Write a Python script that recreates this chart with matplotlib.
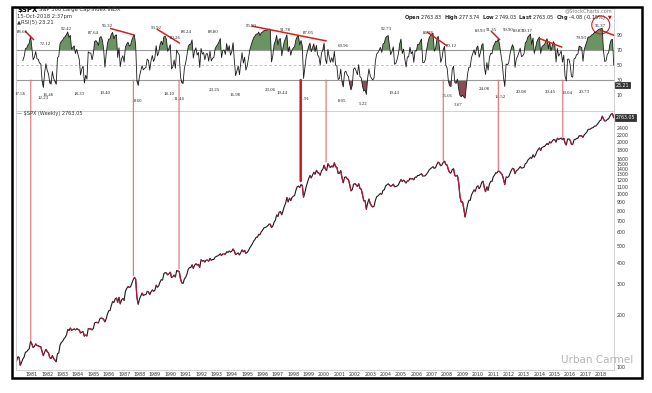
import numpy as np
import matplotlib.pyplot as plt
from matplotlib.patches import Rectangle, Ellipse, ConnectionPatch
from matplotlib.collections import LineCollection

# S&P 500 monthly closes (Dec 1979 .. mid Oct 2018), read/estimated
spx_1980s = [107.94,
    114.16, 113.66, 102.09, 106.29, 111.24, 114.24, 121.67, 122.38, 125.46, 127.47, 140.52, 135.76,
    129.55, 131.27, 136.00, 132.81, 132.59, 131.21, 130.92, 122.79, 116.18, 121.89, 126.35, 122.55,
    120.40, 113.11, 111.96, 116.44, 111.88, 109.61, 107.09, 119.51, 120.42, 133.71, 138.54, 140.64,
    145.30, 148.06, 152.96, 164.42, 162.39, 168.11, 162.56, 164.40, 166.07, 163.55, 166.40, 164.93,
    163.41, 157.06, 159.18, 160.05, 150.55, 153.18, 150.66, 166.68, 166.10, 166.09, 163.58, 167.24,
    179.63, 181.18, 180.66, 179.83, 189.55, 191.85, 190.92, 188.63, 182.08, 189.82, 202.17, 211.28,
    211.78, 226.92, 238.90, 235.52, 247.35, 250.84, 236.12, 252.93, 231.32, 243.98, 249.22, 242.17,
    274.08, 284.20, 291.70, 288.36, 290.10, 304.00, 318.66, 329.80, 321.83, 251.79, 230.30, 247.08,
    257.07, 267.82, 258.89, 261.33, 262.16, 273.50, 272.02, 261.52, 271.91, 278.97, 273.70, 277.72,
    297.47, 288.86, 294.87, 309.64, 320.52, 317.98, 346.08, 351.45, 349.15, 340.36, 345.99, 353.40]
spx_1990s = [
    329.08, 331.89, 339.94, 330.80, 361.23, 358.02, 356.15, 322.56, 306.05, 304.00, 322.22, 330.22,
    343.93, 367.07, 375.22, 375.35, 389.83, 371.16, 387.81, 395.43, 387.86, 392.46, 375.22, 417.09,
    408.79, 412.70, 403.69, 414.95, 415.35, 408.14, 424.21, 414.03, 417.80, 418.68, 431.35, 435.71,
    438.78, 443.38, 451.67, 440.19, 450.19, 450.53, 448.13, 463.56, 458.93, 467.83, 461.79, 466.45,
    481.61, 467.14, 445.77, 450.91, 456.50, 444.27, 458.26, 475.49, 462.69, 472.35, 453.69, 459.27,
    470.42, 487.39, 500.71, 514.71, 533.40, 544.75, 562.06, 561.88, 584.41, 581.50, 605.37, 615.93,
    636.02, 640.43, 645.50, 654.17, 669.12, 670.63, 639.95, 651.99, 687.31, 705.27, 757.02, 740.74,
    786.16, 790.82, 757.12, 801.34, 848.28, 885.14, 954.29, 899.47, 947.28, 914.62, 955.40, 970.43,
    980.28, 1049.34, 1101.75, 1111.75, 1090.82, 1133.84, 1120.67, 957.28, 1017.01, 1098.67, 1163.63, 1229.23,
    1279.64, 1238.33, 1286.37, 1335.18, 1301.84, 1372.71, 1328.72, 1320.41, 1282.71, 1362.93, 1388.91, 1469.25]
spx_2000s = [
    1394.46, 1366.42, 1498.58, 1452.43, 1420.60, 1454.60, 1430.83, 1517.68, 1436.51, 1429.40, 1314.95, 1320.28,
    1366.01, 1239.94, 1160.33, 1249.46, 1255.82, 1224.42, 1211.23, 1133.58, 1040.94, 1059.78, 1139.45, 1148.08,
    1130.20, 1106.73, 1147.39, 1076.92, 1067.14, 989.82, 911.62, 916.07, 815.28, 885.76, 936.31, 879.82,
    855.70, 841.15, 848.18, 916.92, 963.59, 974.50, 990.31, 1008.01, 995.97, 1050.71, 1058.20, 1111.92,
    1131.13, 1144.94, 1126.21, 1107.30, 1120.68, 1140.84, 1101.72, 1104.24, 1114.58, 1130.20, 1173.82, 1211.92,
    1181.27, 1203.60, 1180.59, 1156.85, 1191.50, 1191.33, 1234.18, 1220.33, 1228.81, 1207.01, 1249.48, 1248.29,
    1280.08, 1280.66, 1294.87, 1310.61, 1270.09, 1270.20, 1276.66, 1303.82, 1335.85, 1377.94, 1400.63, 1418.30,
    1438.24, 1406.82, 1420.86, 1482.37, 1530.62, 1503.35, 1455.27, 1473.99, 1526.75, 1549.38, 1481.14, 1468.36,
    1378.55, 1330.63, 1322.70, 1385.59, 1400.38, 1280.00, 1267.38, 1282.83, 1166.36, 968.75, 896.24, 903.25,
    825.88, 735.09, 797.87, 872.81, 919.14, 919.32, 987.48, 1020.62, 1057.08, 1036.19, 1095.63, 1115.10]
spx_2010s = [
    1073.87, 1104.49, 1169.43, 1186.69, 1089.41, 1030.71, 1101.60, 1049.33, 1141.20, 1183.26, 1180.55, 1257.64,
    1286.12, 1327.22, 1325.83, 1363.61, 1345.20, 1320.64, 1292.28, 1218.89, 1131.42, 1253.30, 1246.96, 1257.60,
    1312.41, 1365.68, 1408.47, 1397.91, 1310.33, 1362.16, 1379.32, 1406.58, 1440.67, 1412.16, 1416.18, 1426.19,
    1498.11, 1514.68, 1569.19, 1597.57, 1630.74, 1606.28, 1685.73, 1632.97, 1681.55, 1756.54, 1805.81, 1848.36,
    1782.59, 1859.45, 1872.34, 1883.95, 1923.57, 1960.23, 1930.67, 2003.37, 1972.29, 2018.05, 2067.56, 2058.90,
    1994.99, 2104.50, 2067.89, 2085.51, 2107.39, 2063.11, 2103.84, 1972.18, 1920.03, 2079.36, 2080.41, 2043.94,
    1940.24, 1932.23, 2059.74, 2065.30, 2096.95, 2098.86, 2173.60, 2170.95, 2168.27, 2126.15, 2198.81, 2238.83,
    2278.87, 2363.64, 2362.72, 2384.20, 2411.80, 2423.41, 2470.30, 2471.65, 2519.36, 2575.26, 2647.58, 2673.61,
    2823.81, 2713.83, 2640.87, 2648.05, 2705.27, 2718.37, 2816.29, 2901.52, 2913.98, 2763.05]

last_price = 2763.05
last_rsi = 23.21

# annotated RSI highs / lows (date as decimal year, label)
peak_dates = [1980.41, 1981.86, 1983.27, 1985.00, 1985.93, 1989.12, 1990.31, 1991.07, 1992.80,
              1995.29, 1997.46, 1998.98, 2001.25, 2004.03, 2006.78, 2008.30, 2010.18, 2010.90,
              2011.98, 2012.62, 2013.24, 2016.75, 2017.99]
peak_labels = ["88.66", "72.12", "92.42", "87.64", "96.32", "93.92", "80.26", "88.24", "88.80",
               "95.80", "91.78", "87.05", "69.96", "92.73", "86.76", "70.12", "89.93", "91.35",
               "90.90", "89.83", "90.17", "79.93", "96.37"]
low_dates = [1980.23, 1981.73, 1982.03, 1984.07, 1985.76, 1987.92, 1989.94, 1990.57, 1992.86,
             1994.21, 1996.48, 1997.28, 1998.70, 2001.19, 2002.51, 2004.57, 2007.98, 2008.73,
             2010.42, 2011.44, 2012.80, 2014.69, 2015.78, 2016.90]
low_labels = ["17.56", "12.23", "16.46", "18.33", "19.40", "8.60", "18.10", "11.46", "23.25",
              "16.98", "23.06", "19.44", "11.91", "8.05", "5.22", "19.43", "15.01", "3.67",
              "24.08", "14.52", "20.08", "20.45", "19.04", "20.73"]

# divergence trend lines drawn on RSI: (date0, rsi0, date1, rsi1)
trend_start_dates = [1980.56, 1986.08, 1989.12, 1995.29, 2006.67, 2010.85, 2013.97, 2017.94]
trend_start_rsi = [95.3, 98.9, 98.0, 102.0, 94.4, 95.3, 85.6, 96.7]
trend_end_dates = [1981.14, 1987.66, 1990.63, 2000.17, 2008.01, 2011.44, 2015.49, 2018.92]
trend_end_rsi = [83.3, 90.0, 78.9, 82.0, 75.3, 83.3, 73.6, 89.1]

# vertical lines from RSI panel down to price peaks
div_dates = [1980.93, 1987.60, 1990.57, 1998.48, 2000.13, 2007.75, 2011.33, 2015.52]
div_prices = [142, 337, 369, 1190, 1527, 1565, 1363, 2131]

years = list(range(1981, 2019))
price_ticks = list(range(100, 1000, 100)) + list(range(1000, 1700, 100)) + [1800, 2000, 2200, 2400]

W, H = 652, 393


def rsi_wilder(p, n=5):
    p = np.asarray(p, float)
    d = np.diff(p)
    up = np.clip(d, 0, None)
    dn = np.clip(-d, 0, None)
    out = np.full(len(p), np.nan)
    au = up[:n].mean()
    ad = dn[:n].mean()
    out[n] = 100 - 100 / (1 + au / ad) if ad > 0 else 100
    for i in range(n, len(d)):
        au = (au * (n - 1) + up[i]) / n
        ad = (ad * (n - 1) + dn[i]) / n
        out[i + 1] = 100 - 100 / (1 + au / ad) if ad > 0 else 100
    return out


spx = np.array(spx_1980s + spx_1990s + spx_2000s + spx_2010s)
t = 1980 + np.arange(len(spx)) / 12.0
rsi = rsi_wilder(spx)

fig = plt.figure(figsize=(6.52, 3.93), dpi=100)
fig.patch.set_facecolor("white")

ax_r = fig.add_axes([16 / W, 1 - 111 / H, 598 / W, 103 / H])
ax_p = fig.add_axes([16 / W, 1 - 370 / H, 598 / W, 259 / H], sharex=ax_r)

xmin, xmax = 1979.97, 2018.85
for ax in (ax_r, ax_p):
    for s in ax.spines.values():
        s.set_color("#c8c8c8")
        s.set_linewidth(0.6)
    ax.yaxis.tick_right()
    ax.tick_params(axis="both", length=0, labelsize=3.4, pad=2, colors="#333333")

# ---- RSI panel ----
ax_r.set_ylim(-11.3, 126)
ax_r.set_xlim(xmin, xmax)
ax_r.axhline(70, color="#999999", lw=0.8)
ax_r.axhline(30, color="#999999", lw=0.8)
ax_r.axhline(50, color="#aaaaaa", lw=0.5, ls=(0, (4, 3)))
ax_r.fill_between(t, rsi, 70, where=rsi >= 70, interpolate=True, color="#6b9462", lw=0)
ax_r.fill_between(t, rsi, 30, where=rsi <= 30, interpolate=True, color="#8c4a55", lw=0)
ax_r.plot(t, rsi, color="#1a1a1a", lw=0.6)
ax_r.set_yticks([10, 30, 50, 70, 90])
ax_r.tick_params(axis="x", labelbottom=False)

for d, lab in zip(peak_dates, peak_labels):
    ax_r.annotate(lab, (d, float(lab)), xytext=(0, 3), textcoords="offset points",
                  ha="center", va="center", fontsize=3.5, family="Liberation Serif",
                  color="#222222")
for d, lab in zip(low_dates, low_labels):
    ax_r.annotate(lab, (d, float(lab)), xytext=(0, -3.6), textcoords="offset points",
                  ha="center", va="center", fontsize=3.5, family="Liberation Serif",
                  color="#222222")
for x0, y0, x1, y1 in zip(trend_start_dates, trend_start_rsi, trend_end_dates, trend_end_rsi):
    ax_r.plot([x0, x1], [y0, y1], color="#d42020", lw=1.1, solid_capstyle="butt", clip_on=False)

# circle around last peak label
circ_w = 18 / (598 / (xmax - xmin))
circ_h = 18 / (103 / (126 + 11.3))
ax_r.add_patch(Ellipse((peak_dates[-1], float(peak_labels[-1]) + 7), circ_w, circ_h,
                       fill=False, ec="#d42020", lw=0.8))

ax_r.text(1.003, (last_rsi + 11.3) / 137.3, f"{last_rsi:.2f}", transform=ax_r.transAxes,
          fontsize=3.4, va="center", ha="left", color="white",
          bbox=dict(boxstyle="square,pad=0.15", fc="#333333", ec="#000000", lw=0.4))

# ---- price panel ----
ax_p.set_yscale("log")
ax_p.set_ylim(96, 3020)
ax_p.set_xlim(xmin, xmax)
ax_p.plot(t, spx, color="#1a1a1a", lw=0.8)
segs = [[(t[i], spx[i]), (t[i + 1], spx[i + 1])] for i in range(len(spx) - 1) if spx[i + 1] < spx[i]]
ax_p.add_collection(LineCollection(segs, colors="#b8153a", linewidths=0.9))
ax_p.set_yticks(price_ticks)
ax_p.set_yticklabels([str(v) for v in price_ticks])
ax_p.yaxis.set_minor_locator(plt.NullLocator())
ax_p.set_xticks(years)
ax_p.set_xticklabels([str(y) for y in years])
ax_p.tick_params(axis="x", labelsize=3.4, pad=1.5)

lp = np.log10(last_price / 96) / np.log10(3020 / 96)
ax_p.text(1.003, lp, f"{last_price:.2f}", transform=ax_p.transAxes, fontsize=3.4,
          va="center", ha="left", color="white",
          bbox=dict(boxstyle="square,pad=0.15", fc="#333333", ec="#000000", lw=0.4))

for d, pr in zip(div_dates, div_prices):
    lw = 1.8 if d == 1998.48 else 0.8
    col = "#d01818" if d == 1998.48 else "#d87070"
    con = ConnectionPatch(xyA=(d, 30), coordsA=ax_r.transData, xyB=(d, pr), coordsB=ax_p.transData,
                          color=col, lw=lw)
    fig.add_artist(con)

# ---- header texts ----
def fx(x):
    return x / W


def fy(y):
    return 1 - y / H


fig.text(fx(17), fy(10), "$SPX", fontsize=5, weight="bold", va="center")
fig.text(fx(39), fy(10), "S&P 500 Large Cap Index INDX", fontsize=3.8, va="center", color="#333333")
fig.text(fx(17), fy(16.5), "15-Oct-2018 2:37pm", fontsize=3.8, va="center", color="#333333")
fig.text(fx(17), fy(22.5), "\u25b2RSI(5) 23.21", fontsize=3.8, va="center", color="#333333")
fig.text(fx(612), fy(11), "@StockCharts.com", fontsize=3.6, va="center", ha="right", color="#777777")
fig.text(fx(606), fy(17), r"$\mathbf{Open}$ 2763.83  $\mathbf{High}$ 2773.74  $\mathbf{Low}$ 2749.03  "
         r"$\mathbf{Last}$ 2763.05  $\mathbf{Chg}$ -4.08 (-0.15%)", fontsize=3.6, va="center",
         ha="right", color="#222222")
fig.text(fx(612), fy(17), "\u25bc", fontsize=3.4, va="center", ha="right", color="#cc0000")
fig.text(fx(17), fy(114), "\u2014 $SPX (Weekly) 2763.05", fontsize=3.6, va="center", color="#333333")
fig.text(fx(597), fy(360), "Urban Carmel", fontsize=7.5, va="center", ha="center", color="#b5b5b5")

fig.add_artist(Rectangle((12 / W, 1 - 378 / H), 630 / W, 371 / H, transform=fig.transFigure,
                         fill=False, ec="black", lw=1.8))

fig.savefig("out.png", dpi=100)
